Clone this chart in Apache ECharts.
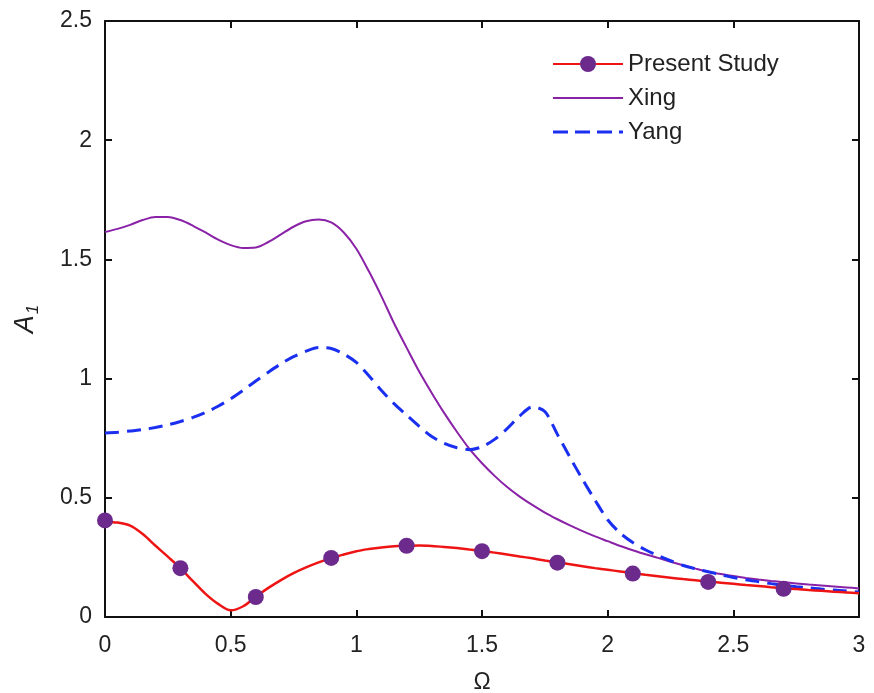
<!DOCTYPE html>
<html>
<head>
<meta charset="utf-8">
<script src="https://cdn.jsdelivr.net/npm/echarts@6/dist/echarts.min.js"></script>
<style>
  html, body { margin: 0; padding: 0; background: #ffffff; }
  #chart { width: 874px; height: 693px; }
</style>
</head>
<body>
<div id="chart"></div>
<script>
 // shared Omega grid for the curves (read every 0.05)
 var omega = [0, 0.05, 0.1, 0.15, 0.2, 0.25, 0.3, 0.35, 0.4, 0.45, 0.5, 0.55, 0.6, 0.65, 0.7, 0.75, 0.8, 0.85, 0.9, 0.95,
              1.0, 1.05, 1.1, 1.15, 1.2, 1.25, 1.3, 1.35, 1.4, 1.45, 1.5, 1.55, 1.6, 1.65, 1.7, 1.75, 1.8, 1.85, 1.9, 1.95,
              2.0, 2.05, 2.1, 2.15, 2.2, 2.25, 2.3, 2.35, 2.4, 2.45, 2.5, 2.55, 2.6, 2.65, 2.7, 2.75, 2.8, 2.85, 2.9, 2.95, 3.0];
 // Present Study, continuous curve
 var redY = [0.400, 0.396, 0.383, 0.348, 0.300, 0.253, 0.205, 0.150, 0.097, 0.055, 0.028, 0.045, 0.085, 0.122, 0.155, 0.184, 0.208, 0.229, 0.247, 0.262,
             0.276, 0.285, 0.292, 0.297, 0.299, 0.300, 0.298, 0.294, 0.289, 0.283, 0.277, 0.270, 0.262, 0.254, 0.246, 0.237, 0.229, 0.221, 0.213, 0.205,
             0.198, 0.191, 0.184, 0.177, 0.171, 0.165, 0.159, 0.154, 0.149, 0.144, 0.139, 0.134, 0.130, 0.125, 0.121, 0.117, 0.113, 0.110, 0.106, 0.103, 0.100];
 // Present Study, markers
 var markerX = [0, 0.3, 0.6, 0.9, 1.2, 1.5, 1.8, 2.1, 2.4, 2.7];
 var markerY = [0.405, 0.205, 0.084, 0.248, 0.299, 0.276, 0.228, 0.182, 0.147, 0.118];
 // Xing
 var xingY = [1.615, 1.628, 1.645, 1.665, 1.678, 1.678, 1.665, 1.641, 1.613, 1.583, 1.560, 1.548, 1.550, 1.573, 1.605, 1.637, 1.660, 1.667, 1.655, 1.613,
              1.545, 1.450, 1.345, 1.232, 1.130, 1.030, 0.940, 0.855, 0.777, 0.705, 0.645, 0.592, 0.545, 0.505, 0.470, 0.438, 0.410, 0.384, 0.360, 0.338,
              0.318, 0.298, 0.280, 0.263, 0.248, 0.232, 0.217, 0.203, 0.190, 0.180, 0.172, 0.164, 0.157, 0.151, 0.146, 0.141, 0.136, 0.132, 0.128, 0.124, 0.120];
 // Yang
 var yangY = [0.772, 0.775, 0.780, 0.786, 0.795, 0.806, 0.820, 0.837, 0.858, 0.884, 0.915, 0.951, 0.990, 1.027, 1.062, 1.092, 1.115, 1.130, 1.126, 1.103,
              1.068, 1.012, 0.950, 0.895, 0.847, 0.800, 0.757, 0.728, 0.710, 0.702, 0.714, 0.745, 0.790, 0.843, 0.881, 0.862, 0.766, 0.670, 0.577, 0.490,
              0.408, 0.352, 0.312, 0.282, 0.258, 0.236, 0.216, 0.202, 0.190, 0.177, 0.166, 0.156, 0.148, 0.140, 0.133, 0.127, 0.122, 0.117, 0.113, 0.109, 0.105];

 var font = 'Liberation Sans, Arial, sans-serif';

 function pairs(xs, ys) {
   var out = [];
   for (var i = 0; i < xs.length; i++) {
     out.push([xs[i], ys[i]]);
   }
   return out;
 }

 function boxAxis(pos, max, showLabel) {
   return {
     type: 'value',
     position: pos,
     min: 0,
     max: max,
     interval: 0.5,
     axisLine: { show: true, onZero: false, lineStyle: { color: '#111', width: 2 } },
     axisTick: { show: true, inside: true, length: 7, lineStyle: { color: '#111', width: 2 } },
     axisLabel: { show: showLabel, color: '#222', fontSize: 23, fontFamily: font },
     splitLine: { show: false }
   };
 }

 function makeOption() {
   var xBottom = boxAxis('bottom', 3, true);
   xBottom.axisLabel.margin = 17;
   xBottom.name = 'Ω';
   xBottom.nameLocation = 'middle';
   xBottom.nameGap = 54;
   xBottom.nameTextStyle = { color: '#222', fontSize: 23, fontFamily: font };

   var yLeft = boxAxis('left', 2.5, true);
   yLeft.axisLabel.margin = 13;
   yLeft.name = '{a|A}{b|1}';
   yLeft.nameLocation = 'middle';
   yLeft.nameRotate = 90;
   yLeft.nameGap = 65;
   yLeft.nameTextStyle = {
     color: '#222',
     fontFamily: font,
     rich: {
       a: { fontSize: 27, fontStyle: 'italic', color: '#222', fontFamily: font, verticalAlign: 'top', lineHeight: 28 },
       b: { fontSize: 17, fontStyle: 'italic', color: '#222', fontFamily: font, verticalAlign: 'top', lineHeight: 18, padding: [13, 0, 0, 1] }
     }
   };

   var option = {
     animation: false,
     backgroundColor: '#ffffff',
     grid: { left: 105, right: 15, top: 21, bottom: 76, outerBoundsMode: 'none' },
     legend: {
       orient: 'vertical',
       left: 547,
       top: 47,
       itemWidth: 70,
       itemHeight: 20,
       itemGap: 10,
       textStyle: { color: '#222', fontSize: 24, fontFamily: font },
       data: [
         { name: 'Present Study' },
         { name: 'Xing', icon: 'path://M0,0H70V2.2H0Z', itemStyle: { borderWidth: 0 } },
         { name: 'Yang', icon: 'path://M0,0H15V3H0Z M22,0H37V3H22Z M44,0H59V3H44Z M66,0H70V3H66Z', itemStyle: { borderWidth: 0 } }
       ]
     },
     xAxis: [xBottom, boxAxis('top', 3, false)],
     yAxis: [yLeft, boxAxis('right', 2.5, false)],
     series: [
       {
         name: 'Present Study',
         type: 'line',
         smooth: 0.3,
         symbol: 'circle',
         symbolSize: 16,
         showSymbol: false,
         itemStyle: { color: '#6b2a8c' },
         lineStyle: { color: '#ee1414', width: 2.5 },
         emphasis: { disabled: true },
         z: 3,
         data: pairs(omega, redY)
       },
       {
         name: 'Present Study',
         type: 'scatter',
         symbol: 'circle',
         symbolSize: 16,
         itemStyle: { color: '#6b2a8c', opacity: 1 },
         emphasis: { disabled: true },
         z: 5,
         data: pairs(markerX, markerY)
       },
       {
         name: 'Xing',
         type: 'line',
         smooth: 0.3,
         symbol: 'none',
         itemStyle: { color: '#8a22a8' },
         lineStyle: { color: '#8a22a8', width: 2 },
         emphasis: { disabled: true },
         z: 2,
         data: pairs(omega, xingY)
       },
       {
         name: 'Yang',
         type: 'line',
         smooth: 0.3,
         symbol: 'none',
         itemStyle: { color: '#1a2ff0' },
         lineStyle: { color: '#1a2ff0', width: 3, type: [14, 8] },
         emphasis: { disabled: true },
         z: 2,
         data: pairs(omega, yangY)
       }
     ]
   };
   return option;
 }

 function setChart(id, option) {
   var myChart = echarts.init(document.getElementById(id));
   myChart.setOption(option);
 }

 setChart('chart', makeOption());
</script>
</body>
</html>
